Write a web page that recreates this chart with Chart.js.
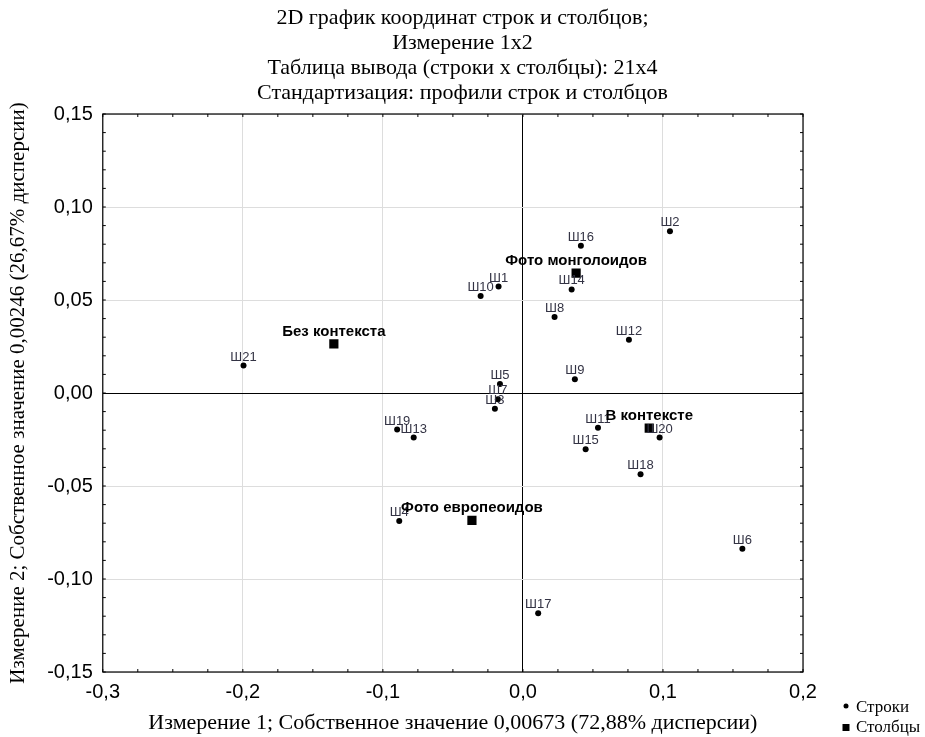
<!DOCTYPE html>
<html>
<head>
<meta charset="utf-8">
<script src="https://cdn.jsdelivr.net/npm/chart.js@4"></script>
<style>
  body { margin: 0; background: #fff; }
  #wrap { width: 925px; height: 737px; }
</style>
</head>
<body>
<div id="wrap"><canvas id="chart" width="925" height="737"></canvas></div>
<script>
// Row points (Строки)
const rowLabels = ['Ш1', 'Ш2', 'Ш3', 'Ш4', 'Ш5', 'Ш6', 'Ш7', 'Ш8', 'Ш9', 'Ш10', 'Ш11',
    'Ш12', 'Ш13', 'Ш14', 'Ш15', 'Ш16', 'Ш17', 'Ш18', 'Ш19', 'Ш20', 'Ш21'];
const rowX = [-0.0174, 0.105, -0.020, -0.0883, -0.0164, 0.1567, -0.0179, 0.0226, 0.0371, -0.0302, 0.0536,
    0.0757, -0.078, 0.0348, 0.0448, 0.0414, 0.0109, 0.0840, -0.0898, 0.0976, -0.1995];
const rowY = [0.0572, 0.0869, -0.0085, -0.0688, 0.0049, -0.0838, -0.0033, 0.0409, 0.0074, 0.0522, -0.0187,
    0.0286, -0.0239, 0.0557, -0.0303, 0.0792, -0.1184, -0.0437, -0.0196, -0.0239, 0.0148];

// Column points (Столбцы)
const colLabels = ['Фото монголоидов', 'Без контекста', 'В контексте', 'Фото европеоидов'];
const colX = [0.038, -0.135, 0.0902, -0.0364];
const colY = [0.0645, 0.0264, -0.0189, -0.0685];

const titleLines = [
    '2D график координат строк и столбцов;',
    'Измерение 1x2',
    'Таблица вывода (строки x столбцы): 21x4',
    'Стандартизация: профили строк и столбцов'
];
const xTitle = 'Измерение 1; Собственное значение 0,00673 (72,88% дисперсии)';
const yTitle = 'Измерение 2; Собственное значение 0,00246 (26,67% дисперсии)';

const SERIF = '"Liberation Serif", "Times New Roman", serif';
const SANS = '"Liberation Sans", Arial, sans-serif';

// title, point labels, frame, inner minor ticks, legend
const decorations = {
    id: 'decorations',
    afterDatasetsDraw(chart) {
        const { ctx, chartArea: a, scales: { x, y } } = chart;
        ctx.save();

        // title
        ctx.fillStyle = '#000';
        ctx.font = '22px ' + SERIF;
        ctx.textAlign = 'center';
        ctx.textBaseline = 'middle';
        titleLines.forEach((t, i) => ctx.fillText(t, chart.width / 2, 18 + i * 25));

        // frame
        ctx.strokeStyle = '#000';
        ctx.lineWidth = 1.2;
        ctx.strokeRect(a.left, a.top, a.right - a.left, a.bottom - a.top);

        // inward ticks
        ctx.lineWidth = 1;
        ctx.beginPath();
        for (let i = 0; i <= 20; i++) {
            const px = x.getPixelForValue(-0.3 + i * 0.025);
            ctx.moveTo(px, a.bottom); ctx.lineTo(px, a.bottom - 3);
            ctx.moveTo(px, a.top); ctx.lineTo(px, a.top + 3);
        }
        for (let i = 0; i <= 30; i++) {
            const py = y.getPixelForValue(-0.15 + i * 0.01);
            ctx.moveTo(a.left, py); ctx.lineTo(a.left + 3, py);
            ctx.moveTo(a.right, py); ctx.lineTo(a.right - 3, py);
        }
        ctx.stroke();

        // labels
        ctx.textBaseline = 'bottom';
        ctx.font = '13px ' + SANS;
        ctx.fillStyle = '#333344';
        rowLabels.forEach((t, i) => {
            ctx.fillText(t, x.getPixelForValue(rowX[i]), y.getPixelForValue(rowY[i]) - 2);
        });
        ctx.font = 'bold 15px ' + SANS;
        ctx.fillStyle = '#000';
        colLabels.forEach((t, i) => {
            ctx.fillText(t, x.getPixelForValue(colX[i]), y.getPixelForValue(colY[i]) - 5);
        });

        // legend
        const lx = a.right + 43;
        const ly = a.bottom + 34;
        ctx.beginPath();
        ctx.arc(lx, ly, 2.5, 0, Math.PI * 2);
        ctx.fill();
        ctx.fillRect(lx - 3.5, ly + 18, 7, 7);
        ctx.font = '17px ' + SERIF;
        ctx.textAlign = 'left';
        ctx.textBaseline = 'middle';
        ctx.fillText(chart.data.datasets[0].label, lx + 10, ly + 2);
        ctx.fillText(chart.data.datasets[1].label, lx + 10, ly + 22);
        ctx.restore();
    }
};

const gridColor = ctx => (Math.abs(ctx.tick.value) < 1e-9 ? '#000' : '#dddddd');

new Chart(document.getElementById('chart'), {
    type: 'scatter',
    data: {
        datasets: [
            {
                label: 'Строки',
                data: rowX.map((v, i) => ({ x: v, y: rowY[i] })),
                pointStyle: 'circle',
                pointRadius: 3,
                backgroundColor: '#000',
                borderColor: '#000',
                borderWidth: 0
            },
            {
                label: 'Столбцы',
                data: colX.map((v, i) => ({ x: v, y: colY[i] })),
                pointStyle: 'rect',
                pointRadius: 6.5,
                backgroundColor: '#000',
                borderColor: '#000',
                borderWidth: 0
            }
        ]
    },
    options: {
        responsive: false,
        animation: false,
        layout: { padding: { left: 6, right: 122, top: 114, bottom: 3 } },
        plugins: {
            legend: { display: false },
            tooltip: { enabled: false },
            title: { display: false }
        },
        scales: {
            x: {
                type: 'linear',
                min: -0.3,
                max: 0.2,
                border: { display: false },
                grid: { color: gridColor, drawTicks: false, lineWidth: 1 },
                ticks: {
                    stepSize: 0.1,
                    padding: 8,
                    color: '#000',
                    font: { family: SANS, size: 20 },
                    callback: v => v.toFixed(1).replace('.', ',')
                },
                title: {
                    display: true,
                    text: xTitle,
                    color: '#000',
                    font: { family: SERIF, size: 22, lineHeight: 1 },
                    padding: { top: 0, bottom: 0 }
                }
            },
            y: {
                type: 'linear',
                min: -0.15,
                max: 0.15,
                border: { display: false },
                grid: { color: gridColor, drawTicks: false, lineWidth: 1 },
                ticks: {
                    stepSize: 0.05,
                    padding: 10,
                    color: '#000',
                    font: { family: SANS, size: 20 },
                    callback: v => v.toFixed(2).replace('.', ',')
                },
                title: {
                    display: true,
                    text: yTitle,
                    color: '#000',
                    font: { family: SERIF, size: 21 },
                    padding: { top: 0, bottom: 6 }
                }
            }
        }
    },
    plugins: [decorations]
});
</script>
</body>
</html>
